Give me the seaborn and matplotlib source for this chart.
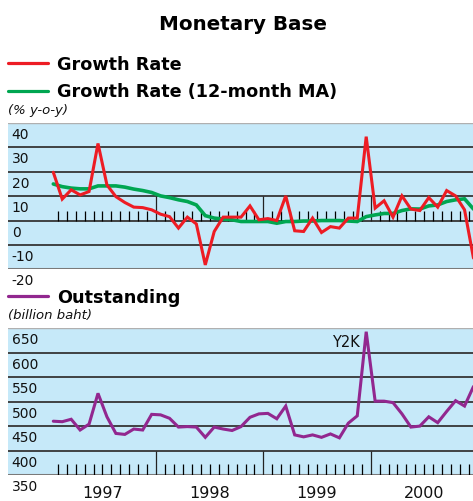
import matplotlib
matplotlib.use("Agg")
import matplotlib.pyplot as plt
from matplotlib.lines import Line2D
import numpy as np
import pandas as pd
import seaborn as sns

# ---------------- data ----------------
years = ["1997", "1998", "1999", "2000"]
growth_rate = [19.8, 8.8, 12.6, 10.5, 11.9, 31.6, 14.6, 9.8, 7.4, 5.5, 5.3, 4.4,
               2.6, 1.6, -3.1, 1.4, -1.4, -18.2, -4.5, 1.4, 1.4, 1.4, 6.0, 0.3,
               0.8, 0.0, 10.1, -4.2, -4.5, 1.0, -4.9, -2.5, -3.1, 1.0, 1.0, 34.4,
               5.1, 8.1, 1.4, 10.1, 4.7, 4.1, 9.4, 5.5, 12.3, 10.1, 4.4, -15.4]
growth_ma = [15.0, 13.9, 13.3, 13.0, 13.0, 14.2, 14.2, 14.2, 13.7, 12.9, 12.3, 11.5,
             10.1, 9.4, 8.5, 7.8, 6.4, 2.0, 1.0, 0.6, 0.3, -0.4, -0.4, -0.4,
             -0.4, -1.1, -0.4, -0.4, -0.2, -0.2, 0.0, 0.0, 0.0, -0.2, -0.4, 1.6,
             2.3, 2.9, 2.9, 4.1, 4.8, 4.7, 6.0, 6.4, 7.8, 8.5, 8.9, 4.7]
outstanding = [460, 459, 464, 442, 454, 517, 469, 435, 433, 444, 442, 474,
               473, 466, 448, 449, 448, 427, 448, 444, 441, 449, 468, 475,
               476, 465, 491, 432, 428, 432, 427, 434, 426, 456, 471, 643,
               501, 501, 498, 475, 448, 450, 469, 457, 480, 502, 491, 531]
rate_ticks = [40, 30, 20, 10, 0, -10, -20]
base_ticks = [650, 600, 550, 500, 450, 400, 350]

n_months = len(growth_rate)
month = np.arange(n_months)
df = pd.DataFrame({"month": month, "rate": growth_rate, "ma": growth_ma,
                   "base": outstanding})

# ---------------- style ----------------
RED = "#ed1c24"
GREEN = "#00a651"
PURPLE = "#92278f"
BG = "#c6e9f9"
GRID = "#353535"
BORDER = "#7a7a7a"

sns.set_theme(style="white")
plt.rcParams["font.family"] = ["DejaVu Sans"]

W, H = 473, 501
fig = plt.figure(figsize=(W / 100, H / 100), dpi=100)
fig.patch.set_facecolor("white")


def fx(px):
    return px / W


def fy(py):
    return 1 - py / H


X0, X1 = 8, 473
px_per_month = 8.94
first_center = 53.3
xlim = ((X0 - first_center) / px_per_month, (X1 - first_center) / px_per_month)

ax1 = fig.add_axes([fx(X0), fy(269.3), fx(X1 - X0), (269.3 - 123) / H])
ax2 = fig.add_axes([fx(X0), fy(475), fx(X1 - X0), (475 - 328.3) / H])

boundaries = month[:-1] + 0.5
year_bounds = boundaries[(np.arange(len(boundaries)) % 12) == 11]
minor_bounds = boundaries[(np.arange(len(boundaries)) % 12) != 11]


def setup(ax, ticks, minor_h, major_top, base):
    ax.set_facecolor(BG)
    for s in ax.spines.values():
        s.set_visible(False)
    ax.set_xlim(*xlim)
    ax.set_ylim(ticks[-1], ticks[0])
    ax.set_xticks([])
    ax.set_yticks([])
    ax.set_xlabel("")
    ax.set_ylabel("")
    # grid lines
    ax.axhline(ticks[0], color="#b0b0b0", lw=1.0, zorder=1)
    for v in ticks[1:-1]:
        ax.axhline(v, color=GRID, lw=1.3, zorder=1)
    ax.axhline(ticks[-1], color=BORDER, lw=2.2, zorder=1)
    # month ticks
    ax.vlines(minor_bounds, base, base + minor_h, color="black", lw=0.9, zorder=2)
    ax.vlines(year_bounds, base, major_top, color="#222222", lw=0.9, zorder=2)
    # y labels inside
    for v in ticks:
        ax.annotate(str(v), xy=(0.008, v), xycoords=("axes fraction", "data"),
                    xytext=(0, -5), textcoords="offset pixels",
                    ha="left", va="top", fontsize=10, color="#111111",
                    annotation_clip=False)


setup(ax1, rate_ticks, 4.1, 10, 0)
setup(ax2, base_ticks, 22.5, 400, 350)

sns.lineplot(data=df, x="month", y="ma", ax=ax1, color=GREEN, lw=2.6,
             solid_joinstyle="miter", zorder=3)
sns.lineplot(data=df, x="month", y="rate", ax=ax1, color=RED, lw=2.2,
             solid_joinstyle="miter", zorder=4)
sns.lineplot(data=df, x="month", y="base", ax=ax2, color=PURPLE, lw=2.2,
             solid_joinstyle="miter", zorder=4)
for ax in (ax1, ax2):
    ax.set_xlabel("")
    ax.set_ylabel("")
    ax.set_xticks([])
    ax.set_yticks([])

# Y2K label
peak = int(np.argmax(outstanding))
ax2.annotate("Y2K", xy=(peak, outstanding[peak]), xytext=(-6, -15),
             textcoords="offset pixels", ha="right", va="baseline",
             fontsize=10.5, color="#111111")

# year labels
for k, yr in enumerate(years):
    ax2.annotate(yr, xy=(k * 12 + 5.5, 350), xytext=(0, -23.3),
                 textcoords="offset pixels", ha="center", va="baseline",
                 fontsize=11.5, color="#111111", annotation_clip=False)

# title
fig.text(fx(243), fy(30), "Monetary Base", ha="center", va="baseline",
         fontsize=14.3, fontweight="bold", color="black")

# legends
def legend_entry(y_line, y_base, color, label):
    fig.add_artist(Line2D([fx(8), fx(48)], [fy(y_line), fy(y_line)],
                          color=color, lw=2.3, transform=fig.transFigure))
    fig.text(fx(57), fy(y_base), label, ha="left", va="baseline",
             fontsize=12.7, fontweight="bold", color="black")


legend_entry(63.3, 69.6, RED, "Growth Rate")
legend_entry(91.0, 97.3, GREEN, "Growth Rate (12-month MA)")
legend_entry(295.5, 303.3, PURPLE, "Outstanding")

fig.text(fx(8), fy(114.5), "(% y-o-y)", ha="left", va="baseline",
         fontsize=9.5, style="italic", color="#111111")
fig.text(fx(8), fy(319.3), "(billion baht)", ha="left", va="baseline",
         fontsize=9.5, style="italic", color="#111111")

fig.savefig("out.png", dpi=100, facecolor="white")
